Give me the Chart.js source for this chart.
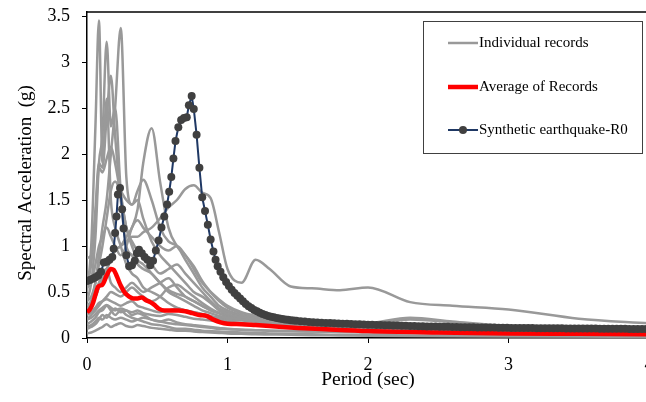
<!DOCTYPE html>
<html>
<head>
<meta charset="utf-8">
<script src="https://cdn.jsdelivr.net/npm/chart.js@4.4.1/dist/chart.umd.min.js"></script>
<style>
  html, body { margin: 0; padding: 0; background: #fff; overflow: hidden; }
  canvas { display: block; }
</style>
</head>
<body>
<canvas id="grafico" width="654" height="402"></canvas>
<script>
// Periodos (s) comunes para los registros individuales
const recPeriods = [0, 0.03, 0.06, 0.085, 0.11, 0.14, 0.17, 0.2, 0.24, 0.28, 0.32, 0.36, 0.4, 0.46, 0.52, 0.58, 0.64, 0.7, 0.76, 0.82, 0.88, 0.94, 1.0, 1.1, 1.2, 1.3, 1.45, 1.6, 1.8, 2.0, 2.3, 2.6, 3.0, 3.5, 4.0];

// Registros individuales (g)
const rec01 = [0.5, 1.0, 2.3, 3.45, 1.9, 2.6, 1.5, 1.2, 1.0, 0.8, 0.7, 0.65, 0.55, 0.5, 0.45, 0.38, 0.33, 0.3, 0.28, 0.26, 0.22, 0.2, 0.18, 0.16, 0.14, 0.13, 0.12, 0.1, 0.09, 0.08, 0.07, 0.06, 0.05, 0.04, 0.035];
const rec02 = [0.4, 0.6, 1.1, 1.9, 2.2, 3.22, 2.3, 2.5, 1.6, 1.2, 1.0, 0.85, 0.8, 0.7, 0.6, 0.5, 0.45, 0.4, 0.35, 0.3, 0.27, 0.24, 0.22, 0.2, 0.18, 0.16, 0.14, 0.13, 0.12, 0.11, 0.1, 0.09, 0.08, 0.07, 0.06];
const rec03 = [0.3, 0.4, 0.6, 0.9, 1.2, 1.5, 2.0, 2.5, 3.37, 1.75, 1.45, 1.5, 1.3, 1.05, 0.9, 0.8, 0.7, 0.6, 0.5, 0.45, 0.38, 0.3, 0.26, 0.22, 0.2, 0.18, 0.16, 0.15, 0.13, 0.12, 0.11, 0.1, 0.09, 0.08, 0.07];
const rec04 = [0.6, 0.8, 1.4, 1.9, 1.85, 2.4, 2.85, 2.2, 1.5, 1.0, 0.9, 0.8, 0.75, 0.7, 0.6, 0.52, 0.48, 0.45, 0.4, 0.35, 0.3, 0.27, 0.24, 0.2, 0.18, 0.16, 0.14, 0.12, 0.11, 0.1, 0.09, 0.08, 0.07, 0.06, 0.05];
const rec05 = [0.87, 0.9, 1.3, 1.85, 1.8, 1.95, 2.08, 1.9, 1.55, 1.2, 1.05, 0.95, 0.9, 0.8, 0.7, 0.75, 0.8, 0.7, 0.6, 0.5, 0.4, 0.32, 0.28, 0.24, 0.22, 0.2, 0.18, 0.16, 0.15, 0.14, 0.13, 0.12, 0.11, 0.1, 0.09];
const rec06 = [0.3, 0.35, 0.45, 0.55, 0.65, 0.75, 0.85, 0.95, 1.0, 1.1, 1.2, 1.4, 1.9, 2.28, 1.7, 1.2, 1.0, 0.9, 0.75, 0.6, 0.5, 0.42, 0.35, 0.28, 0.24, 0.21, 0.18, 0.16, 0.14, 0.13, 0.12, 0.11, 0.1, 0.09, 0.08];
const rec07 = [0.4, 0.45, 0.6, 0.8, 1.0, 1.3, 1.6, 1.7, 1.6, 1.5, 1.45, 1.6, 1.72, 1.5, 1.2, 1.05, 1.0, 0.85, 0.7, 0.55, 0.45, 0.35, 0.3, 0.25, 0.22, 0.2, 0.18, 0.16, 0.15, 0.14, 0.13, 0.12, 0.11, 0.1, 0.09];
const rec08 = [0.3, 0.35, 0.45, 0.55, 0.65, 0.75, 0.85, 0.95, 1.0, 1.05, 1.1, 1.1, 1.15, 1.2, 1.3, 1.42, 1.5, 1.62, 1.66, 1.58, 1.52, 1.15, 0.75, 0.6, 0.85, 0.75, 0.56, 0.54, 0.52, 0.55, 0.39, 0.35, 0.31, 0.21, 0.16];
const rec09 = [0.25, 0.28, 0.33, 0.38, 0.4, 0.42, 0.4, 0.38, 0.35, 0.38, 0.4, 0.35, 0.33, 0.3, 0.28, 0.3, 0.32, 0.3, 0.28, 0.26, 0.24, 0.22, 0.2, 0.19, 0.18, 0.17, 0.16, 0.15, 0.15, 0.16, 0.22, 0.18, 0.13, 0.12, 0.11];
const rec10 = [0.2, 0.22, 0.26, 0.3, 0.33, 0.36, 0.33, 0.3, 0.32, 0.3, 0.28, 0.3, 0.27, 0.25, 0.24, 0.26, 0.25, 0.23, 0.21, 0.2, 0.19, 0.18, 0.17, 0.16, 0.15, 0.14, 0.14, 0.13, 0.13, 0.14, 0.2, 0.17, 0.12, 0.11, 0.1];
const rec11 = [0.15, 0.18, 0.22, 0.28, 0.3, 0.35, 0.3, 0.25, 0.3, 0.25, 0.22, 0.2, 0.18, 0.15, 0.14, 0.12, 0.1, 0.1, 0.09, 0.08, 0.075, 0.07, 0.065, 0.06, 0.055, 0.05, 0.045, 0.04, 0.035, 0.03, 0.028, 0.025, 0.02, 0.018, 0.015];
const rec12 = [0.1, 0.12, 0.15, 0.2, 0.25, 0.22, 0.28, 0.32, 0.28, 0.3, 0.25, 0.27, 0.25, 0.2, 0.18, 0.2, 0.17, 0.15, 0.14, 0.13, 0.12, 0.11, 0.1, 0.09, 0.085, 0.08, 0.075, 0.07, 0.065, 0.06, 0.055, 0.05, 0.045, 0.04, 0.035];
const rec13 = [0.05, 0.06, 0.08, 0.1, 0.12, 0.15, 0.12, 0.14, 0.16, 0.13, 0.12, 0.14, 0.13, 0.11, 0.1, 0.09, 0.08, 0.08, 0.07, 0.065, 0.06, 0.055, 0.05, 0.045, 0.04, 0.038, 0.035, 0.03, 0.028, 0.025, 0.022, 0.02, 0.018, 0.015, 0.012];
const rec14 = [0.2, 0.25, 0.3, 0.35, 0.4, 0.45, 0.5, 0.48, 0.45, 0.5, 0.55, 0.5, 0.45, 0.4, 0.45, 0.55, 0.58, 0.52, 0.45, 0.38, 0.32, 0.27, 0.23, 0.2, 0.18, 0.16, 0.14, 0.13, 0.12, 0.11, 0.1, 0.09, 0.08, 0.075, 0.07];
const rec15 = [0.55, 0.6, 0.8, 1.0, 1.1, 1.2, 1.1, 1.0, 0.9, 1.0, 1.2, 1.28, 1.2, 1.1, 1.0, 0.95, 1.0, 0.9, 0.78, 0.62, 0.5, 0.4, 0.33, 0.27, 0.24, 0.21, 0.19, 0.17, 0.16, 0.15, 0.14, 0.13, 0.12, 0.11, 0.1];
const rec16 = [0.35, 0.4, 0.5, 0.6, 0.7, 0.75, 0.6, 0.55, 0.5, 0.55, 0.6, 0.55, 0.5, 0.55, 0.6, 0.65, 0.55, 0.45, 0.4, 0.35, 0.3, 0.27, 0.24, 0.21, 0.19, 0.17, 0.15, 0.14, 0.13, 0.12, 0.11, 0.1, 0.09, 0.08, 0.075];
const rec17 = [0.12, 0.14, 0.18, 0.22, 0.2, 0.25, 0.22, 0.2, 0.22, 0.2, 0.18, 0.2, 0.22, 0.2, 0.18, 0.16, 0.15, 0.14, 0.13, 0.12, 0.11, 0.1, 0.095, 0.09, 0.085, 0.08, 0.075, 0.07, 0.07, 0.065, 0.06, 0.055, 0.05, 0.045, 0.04];
const registros = [rec01, rec02, rec03, rec04, rec05, rec06, rec07, rec08, rec09, rec10, rec11, rec12, rec13, rec14, rec15, rec16, rec17];

// Promedio de registros
const avgPeriods = [0, 0.02, 0.04, 0.06, 0.08, 0.11, 0.14, 0.17, 0.19, 0.21, 0.24, 0.27, 0.3, 0.33, 0.36, 0.39, 0.42, 0.45, 0.48, 0.51, 0.55, 0.6, 0.65, 0.7, 0.75, 0.8, 0.85, 0.9, 0.95, 1.0, 1.1, 1.2, 1.3, 1.5, 1.7, 2.0, 2.5, 3.0, 3.5, 4.0];
const avgSa = [0.28, 0.31, 0.37, 0.47, 0.56, 0.58, 0.68, 0.75, 0.74, 0.68, 0.57, 0.49, 0.45, 0.43, 0.43, 0.44, 0.41, 0.39, 0.36, 0.32, 0.3, 0.3, 0.3, 0.29, 0.27, 0.25, 0.24, 0.2, 0.17, 0.155, 0.15, 0.14, 0.13, 0.11, 0.095, 0.075, 0.06, 0.05, 0.045, 0.04];

// Sismo sintetico R0
const synPeriods = [
  0, 0.02, 0.04, 0.06, 0.08, 0.1, 0.12, 0.14, 0.16, 0.18,
  0.19, 0.2, 0.21, 0.22, 0.235, 0.25, 0.26, 0.28, 0.3, 0.32,
  0.34, 0.355, 0.37, 0.39, 0.41, 0.43, 0.45, 0.47, 0.49, 0.51,
  0.53, 0.55, 0.57, 0.585, 0.6, 0.615, 0.63, 0.65, 0.67, 0.69,
  0.71, 0.725, 0.745, 0.76, 0.78, 0.8, 0.82, 0.84, 0.86, 0.88,
  0.9, 0.915,
  0.93, 0.95, 0.97, 0.99, 1.01, 1.03, 1.05, 1.07, 1.09, 1.11,
  1.13, 1.15, 1.17, 1.19, 1.21, 1.23, 1.25, 1.27, 1.29, 1.31,
  1.33, 1.35, 1.37, 1.39, 1.41, 1.43, 1.45, 1.47, 1.49,
  1.52, 1.55, 1.58, 1.61, 1.64, 1.67, 1.7, 1.73, 1.76, 1.79,
  1.82, 1.85, 1.88, 1.91, 1.94, 1.97, 2.0, 2.03, 2.06, 2.09,
  2.12, 2.15, 2.18, 2.21, 2.24, 2.27, 2.3, 2.33, 2.36, 2.39,
  2.42, 2.45, 2.48, 2.51, 2.54, 2.57, 2.6, 2.63, 2.66, 2.69,
  2.72, 2.75, 2.78, 2.81, 2.84, 2.87, 2.9, 2.93, 2.96, 2.99,
  3.02, 3.05, 3.08, 3.11, 3.14, 3.17, 3.2, 3.23, 3.26, 3.29,
  3.32, 3.35, 3.38, 3.41, 3.44, 3.47, 3.5, 3.53, 3.56, 3.59,
  3.62, 3.65, 3.68, 3.71, 3.74, 3.77, 3.8, 3.83, 3.86, 3.89,
  3.92, 3.95, 3.98];
const synSa = [
  0.62, 0.63, 0.645, 0.66, 0.68, 0.72, 0.82, 0.83, 0.85, 0.88,
  0.97, 1.14, 1.32, 1.56, 1.63, 1.4, 1.19, 0.9, 0.78, 0.79,
  0.84, 0.92, 0.96, 0.92, 0.88, 0.85, 0.79, 0.84, 0.95, 1.06,
  1.2, 1.32, 1.45, 1.59, 1.75, 1.95, 2.14, 2.29, 2.37, 2.39,
  2.4, 2.53, 2.63, 2.49, 2.21, 1.85, 1.53, 1.38, 1.23, 1.07,
  0.94, 0.85,
  0.78, 0.72, 0.66, 0.61, 0.565, 0.525, 0.49, 0.46, 0.43, 0.4,
  0.37, 0.345, 0.325, 0.305, 0.29, 0.275, 0.262, 0.25, 0.24, 0.232,
  0.225, 0.218, 0.212, 0.207, 0.202, 0.198, 0.194, 0.19, 0.187,
  0.183, 0.179, 0.175, 0.172, 0.169, 0.166, 0.164, 0.162, 0.16, 0.158,
  0.156, 0.154, 0.152, 0.15, 0.149, 0.147, 0.145, 0.144, 0.142, 0.141,
  0.139, 0.138, 0.137, 0.135, 0.134, 0.133, 0.131, 0.13, 0.129, 0.128,
  0.126, 0.125, 0.124, 0.123, 0.122, 0.121, 0.12, 0.119, 0.118, 0.118,
  0.117, 0.116, 0.115, 0.115, 0.114, 0.113, 0.113, 0.112, 0.111, 0.111,
  0.11, 0.11, 0.109, 0.109, 0.108, 0.108, 0.107, 0.107, 0.106, 0.106,
  0.105, 0.105, 0.105, 0.104, 0.104, 0.103, 0.103, 0.103, 0.102, 0.102,
  0.102, 0.101, 0.101, 0.101, 0.1, 0.1, 0.1, 0.1, 0.099, 0.099,
  0.099, 0.099, 0.098];

const yTicks = [0, 0.5, 1, 1.5, 2, 2.5, 3, 3.5];
const xTicks = [0, 1, 2, 3, 4];

const fuente = '"Liberation Serif", "Times New Roman", serif';

function puntos(periodos, valores) {
    return periodos.map((t, i) => ({ x: t, y: valores[i] }));
}

const datasets = [];
datasets.push({
    label: 'Synthetic earthquake-R0',
    data: puntos(synPeriods, synSa),
    borderColor: '#1f3864',
    borderWidth: 2,
    pointRadius: 4,
    pointBackgroundColor: '#404040',
    pointBorderColor: '#404040',
    pointBorderWidth: 0,
    tension: 0,
    order: 0
});
datasets.push({
    label: 'Average of Records',
    data: puntos(avgPeriods, avgSa),
    borderColor: '#ff0000',
    borderWidth: 4.5,
    pointRadius: 0,
    cubicInterpolationMode: 'monotone',
    order: 1
});
registros.forEach((r, i) => {
    datasets.push({
        label: i === 0 ? 'Individual records' : '',
        data: puntos(recPeriods, r),
        borderColor: '#999999',
        borderWidth: 2.5,
        pointRadius: 0,
        cubicInterpolationMode: 'monotone',
        order: 2
    });
});

// Marco superior, titulo del eje Y y leyenda dibujados a mano
const marcoYLeyenda = {
    id: 'marcoYLeyenda',
    afterDraw(chart) {
        const ctx = chart.ctx;
        const a = chart.chartArea;
        ctx.save();
        ctx.strokeStyle = '#000';
        ctx.lineWidth = 1.5;
        ctx.beginPath();
        ctx.moveTo(a.left, a.top);
        ctx.lineTo(a.right, a.top);
        ctx.stroke();

        // Titulo del eje Y
        ctx.save();
        ctx.translate(26, 183);
        ctx.rotate(-Math.PI / 2);
        ctx.font = '19px ' + fuente;
        ctx.fillStyle = '#000';
        ctx.textAlign = 'center';
        ctx.textBaseline = 'middle';
        ctx.fillText('Spectral Acceleration  (g)', 0, 0);
        ctx.restore();

        // Caja de la leyenda
        const bx = 423, by = 21, bw = 219, bh = 132;
        ctx.fillStyle = '#fff';
        ctx.fillRect(bx, by, bw, bh);
        ctx.strokeStyle = '#404040';
        ctx.lineWidth = 1;
        ctx.strokeRect(bx + 0.5, by + 0.5, bw, bh);

        const items = [
            { text: 'Individual records', color: '#999999', width: 2.5, marker: false, y: 43 },
            { text: 'Average of Records', color: '#ff0000', width: 4.5, marker: false, y: 87 },
            { text: 'Synthetic earthquake-R0', color: '#1f3864', width: 2, marker: true, y: 130 }
        ];
        ctx.font = '15px ' + fuente;
        ctx.textBaseline = 'middle';
        ctx.textAlign = 'left';
        items.forEach(it => {
            ctx.strokeStyle = it.color;
            ctx.lineWidth = it.width;
            ctx.beginPath();
            ctx.moveTo(448, it.y);
            ctx.lineTo(478, it.y);
            ctx.stroke();
            if (it.marker) {
                ctx.fillStyle = '#404040';
                ctx.beginPath();
                ctx.arc(463, it.y, 4, 0, Math.PI * 2);
                ctx.fill();
            }
            ctx.fillStyle = '#000';
            ctx.fillText(it.text, 479, it.y);
        });
        ctx.restore();
    }
};

new Chart(document.getElementById('grafico'), {
    type: 'line',
    data: { datasets: datasets },
    options: {
        responsive: false,
        animation: false,
        events: [],
        layout: { padding: { top: 12, right: 5, left: 0, bottom: 0 } },
        scales: {
            x: {
                type: 'linear',
                min: 0,
                max: 4,
                afterBuildTicks: s => { s.ticks = xTicks.map(v => ({ value: v })); },
                afterFit: s => { s.height = 64; s.paddingLeft = 0; s.paddingRight = 0; },
                grid: { drawOnChartArea: false, drawTicks: true, tickLength: 5, color: '#000' },
                border: { display: true, color: '#000', width: 1.5 },
                ticks: { color: '#000', padding: 11, maxRotation: 0, font: { family: fuente, size: 18 }, callback: v => String(v) },
                title: {
                    display: true,
                    text: 'Period (sec)',
                    color: '#000',
                    font: { family: fuente, size: 19.5 },
                    padding: { top: 0, bottom: 10 }
                }
            },
            y: {
                min: 0,
                max: 3.5435,
                afterBuildTicks: s => { s.ticks = yTicks.map(v => ({ value: v })); },
                afterFit: s => { s.width = 87; s.paddingTop = 0; s.paddingBottom = 0; },
                grid: { drawOnChartArea: false, drawTicks: true, tickLength: 5, color: '#000' },
                border: { display: true, color: '#000', width: 1.5 },
                ticks: { color: '#000', padding: 12, font: { family: fuente, size: 18 }, callback: v => String(v) },
                title: { display: false }
            }
        },
        plugins: {
            legend: { display: false },
            tooltip: { enabled: false }
        }
    },
    plugins: [marcoYLeyenda]
});
</script>
</body>
</html>
